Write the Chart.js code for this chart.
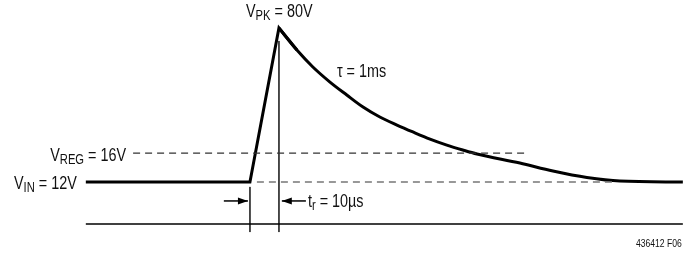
<!DOCTYPE html>
<html>
	<head>
		<title>Load Dump Pulse</title>
		<meta http-equiv="Content-Type" content="text/html; charset=UTF-8" />
		<script src="https://cdn.jsdelivr.net/npm/chart.js@4/dist/chart.umd.min.js"></script>
		<style>
			body { margin: 0; background: #fff; }
		</style>
		<script>

			// time in units of t_r (rise start = 0, peak = 1), schematic only
			// level in % of pulse height above V_IN (V_IN = 0, V_PK = 100)
			var riseT = [-5.66, 0, 1, 1.62];
			var riseLevel = [0, 0, 100, 85.7];

			var decayT = [1, 1.62, 2.17, 2.76, 3.34, 3.90, 4.48, 5.07, 5.62, 6.21, 6.79, 7.34, 7.83, 9.31, 10.45, 11.62, 12.76, 14.93];
			var decayLevel = [100, 85.7, 74.7, 64.9, 56.5, 48.7, 42.2, 37.0, 32.5, 27.9, 24.0, 20.8, 18.2, 12.3, 7.1, 2.9, 0.6, 0];

			var vregT = [-4.03, 9.59];
			var vregLevel = 18.8;
			var vinExtT = [0.24, 12.59];
			var vinLevel = 0;

			var axisT = [-5.66, 14.93];
			var axisLevel = -27.3;

			var markerT = [0, 1];
			var markerTop = [-3.2, 91.6];
			var markerBottom = -32.5;

			var arrowLevel = -12.3;
			var arrowRightT = [-0.9, -0.07];
			var arrowLeftT = [1.93, 1.1];

			function pts(xs, ys) {
				var out = [];
				for (var i = 0; i < xs.length; i++) {
					out.push({ x: xs[i], y: Array.isArray(ys) ? ys[i] : ys });
				}
				return out;
			}

			var FONT = '"Liberation Sans", Arial, sans-serif';

			// draws text with subscripts, squeezed horizontally like a condensed face
			function drawLabel(ctx, parts, x, y, align, size, squeeze) {
				var subSize = Math.round(size * 0.8);
				var w = 0;
				parts.forEach(function (p) {
					ctx.font = (p.sub ? subSize : size) + 'px ' + FONT;
					w += ctx.measureText(p.t).width;
				});
				w *= squeeze;
				var x0 = align === 'right' ? x - w : x;
				ctx.save();
				ctx.translate(x0, y);
				ctx.scale(squeeze, 1);
				ctx.textAlign = 'left';
				ctx.textBaseline = 'alphabetic';
				ctx.fillStyle = '#111';
				var cx = 0;
				parts.forEach(function (p) {
					ctx.font = (p.sub ? subSize : size) + 'px ' + FONT;
					ctx.fillText(p.t, cx, p.sub ? 3 : 0);
					cx += ctx.measureText(p.t).width;
				});
				ctx.restore();
			}

			function arrowHead(ctx, x, y, dir) {
				ctx.beginPath();
				ctx.moveTo(x, y);
				ctx.lineTo(x - dir * 10, y - 3.5);
				ctx.lineTo(x - dir * 10, y + 3.5);
				ctx.closePath();
				ctx.fill();
			}

			var labelsPlugin = {
				id: 'labels',
				afterDraw: function (chart) {
					var ctx = chart.ctx;
					var xs = chart.scales.x, ys = chart.scales.y;
					var sq = 0.8;

					// arrow heads
					ctx.save();
					ctx.fillStyle = '#000';
					arrowHead(ctx, xs.getPixelForValue(arrowRightT[1]), ys.getPixelForValue(arrowLevel), 1);
					arrowHead(ctx, xs.getPixelForValue(arrowLeftT[1]), ys.getPixelForValue(arrowLevel), -1);
					ctx.restore();

					var pkX = xs.getPixelForValue(riseT[2]);
					var pkY = ys.getPixelForValue(riseLevel[2]);
					drawLabel(ctx, [{ t: 'V' }, { t: 'PK', sub: true }, { t: ' = 80V' }], pkX - 33, pkY - 11, 'left', 18, sq);

					drawLabel(ctx, [{ t: '\u03c4 = 1ms' }], xs.getPixelForValue(3.0), ys.getPixelForValue(decayLevel[2]) + 10, 'left', 18, sq);

					drawLabel(ctx, [{ t: 'V' }, { t: 'REG', sub: true }, { t: ' = 16V' }], xs.getPixelForValue(vregT[0]) - 7, ys.getPixelForValue(vregLevel) + 8, 'right', 18, sq);

					drawLabel(ctx, [{ t: 'V' }, { t: 'IN', sub: true }, { t: ' = 12V' }], xs.getPixelForValue(riseT[0]) - 9, ys.getPixelForValue(vinLevel) + 7, 'right', 18, sq);

					drawLabel(ctx, [{ t: 't' }, { t: 'r', sub: true }, { t: ' = 10\u00b5s' }], xs.getPixelForValue(arrowLeftT[0]) + 2, ys.getPixelForValue(arrowLevel) + 6, 'left', 18, sq);

					drawLabel(ctx, [{ t: '436412 F06' }], xs.getPixelForValue(axisT[1]) - 1, 247, 'right', 10, 0.86);
				}
			};

			window.onload = function () {
				var ctx = document.getElementById('myChart').getContext('2d');

				var thin = { showLine: true, pointRadius: 0, fill: false, borderColor: '#333', borderWidth: 1 };

				var datasets = [
					Object.assign({}, thin, { data: pts(axisT, axisLevel), borderColor: '#000', borderWidth: 1.5 }),
					Object.assign({}, thin, { data: pts([markerT[0], markerT[0]], [markerTop[0], markerBottom]) }),
					Object.assign({}, thin, { data: pts([markerT[1], markerT[1]], [markerTop[1], markerBottom]) }),
					Object.assign({}, thin, { data: pts(vregT, vregLevel), borderDash: [7, 5], borderWidth: 1.2 }),
					Object.assign({}, thin, { data: pts(vinExtT, vinLevel), borderDash: [7, 5], borderColor: '#777', borderWidth: 1.6 }),
					Object.assign({}, thin, { data: pts(arrowRightT, arrowLevel), borderColor: '#000', borderWidth: 1.5 }),
					Object.assign({}, thin, { data: pts(arrowLeftT, arrowLevel), borderColor: '#000', borderWidth: 1.5 }),
					{
						data: pts(decayT, decayLevel), showLine: true, pointRadius: 0, fill: false,
						borderColor: '#000', borderWidth: 3, cubicInterpolationMode: 'monotone'
					},
					{
						data: pts(riseT, riseLevel), showLine: true, pointRadius: 0, fill: false,
						borderColor: '#000', borderWidth: 3, tension: 0, borderJoinStyle: 'miter'
					}
				];

				var chart = new Chart(ctx, {
					type: 'scatter',
					data: { datasets: datasets },
					options: {
						responsive: false,
						animation: false,
						events: [],
						layout: { padding: 0 },
						plugins: { legend: { display: false }, tooltip: { enabled: false } },
						scales: {
							x: { type: 'linear', display: false, min: -8.62, max: 15.28 },
							y: { type: 'linear', display: false, min: -48.7, max: 118.2 }
						}
					},
					plugins: [labelsPlugin]
				});
			};

		</script>
	</head>
	<body>
		<canvas id="myChart" width="693" height="257"></canvas>
	</body>
</html>
